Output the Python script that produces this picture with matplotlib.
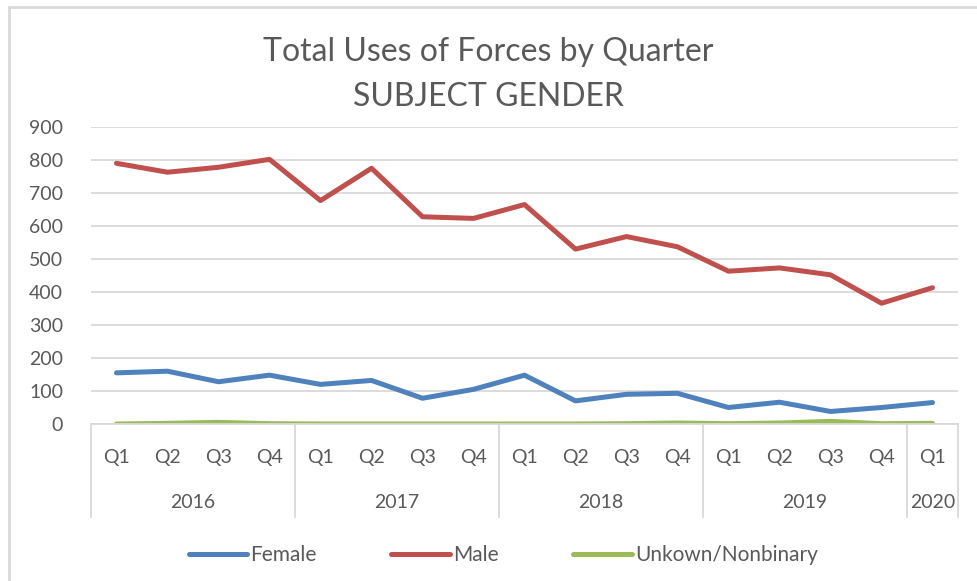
import matplotlib.pyplot as plt
from matplotlib.lines import Line2D
import matplotlib.transforms as mtransforms

plt.rcParams['font.family'] = ['Lato', 'DejaVu Sans']

# data
years = ['2016', '2017', '2018', '2019', '2020']
quarters_per_year = [4, 4, 4, 4, 1]
quarters = ['Q1', 'Q2', 'Q3', 'Q4'] * 4 + ['Q1']
female = [155, 160, 128, 148, 120, 132, 78, 105, 148, 70, 90, 93, 50, 66, 38, 50, 65]
male = [790, 763, 778, 802, 677, 775, 628, 623, 665, 530, 568, 537, 463, 473, 452, 366, 413]
unknown = [0, 2, 5, 1, 0, 0, 0, 0, 0, 0, 1, 3, 1, 3, 8, 1, 2]

fig = plt.figure(figsize=(9.77, 5.81), dpi=100)
ax = fig.add_axes([91 / 977, 1 - 424 / 581, (958 - 91) / 977, (424 - 127) / 581])

x = list(range(len(quarters)))
ax.plot(x, female, color='#4F81BD', lw=3.6, label='Female', solid_capstyle='round')
ax.plot(x, male, color='#C0504D', lw=3.6, label='Male', solid_capstyle='round')
ax.plot(x, unknown, color='#9BBB59', lw=3.6, label='Unkown/Nonbinary', solid_capstyle='round')

ax.set_xlim(-0.5, len(quarters) - 0.5)
ax.set_ylim(0, 900)
ax.set_yticks(range(0, 901, 100))
ax.yaxis.grid(True, color='#D9D9D9', lw=1.3)
ax.set_axisbelow(True)
for s in ['top', 'right', 'left']:
    ax.spines[s].set_visible(False)
ax.spines['bottom'].set_color('#D9D9D9')
ax.spines['bottom'].set_linewidth(1.3)
ax.tick_params(axis='y', length=0, labelsize=14, labelcolor='#595959', pad=20)
ax.set_xticks([])

# two-level category axis
trans = mtransforms.blended_transform_factory(ax.transData, ax.transAxes)
h = 297 / 581  # axes height in figure fraction
q_y = -(457 - 424) / 581 / h
y_y = -(502 - 424) / 581 / h
sep_bottom = -(517 - 424) / 581 / h
for xi, q in zip(x, quarters):
    ax.text(xi, q_y, q, transform=trans, ha='center', va='center', fontsize=14, color='#595959')
start = 0
bounds = [-0.5]
for yr, n in zip(years, quarters_per_year):
    ax.text(start + (n - 1) / 2, y_y, yr, transform=trans, ha='center', va='center',
            fontsize=14, color='#595959')
    start += n
    bounds.append(start - 0.5)
for b in bounds:
    ax.add_line(Line2D([b, b], [0, sep_bottom], transform=trans, color='#D9D9D9',
                       lw=1.3, clip_on=False))

fig.text(0.5, 1 - 52 / 581, 'Total Uses of Forces by Quarter', ha='center', va='center',
         fontsize=23, color='#595959')
fig.text(0.5, 1 - 97 / 581, 'SUBJECT GENDER', ha='center', va='center',
         fontsize=23, color='#595959')

fig.legend(loc='center', bbox_to_anchor=(0.515, 1 - 555 / 581), ncol=3, frameon=False,
           fontsize=15, labelcolor='#595959', handlelength=2.8, columnspacing=3.6,
           handletextpad=0.15)

# chart border
fig.add_artist(plt.Rectangle((9 / 977, -0.05), 1.1, 1 - 7 / 581 + 0.05, transform=fig.transFigure,
                             fill=False, edgecolor='#D9D9D9', lw=2))

fig.savefig('out.png', dpi=100)
